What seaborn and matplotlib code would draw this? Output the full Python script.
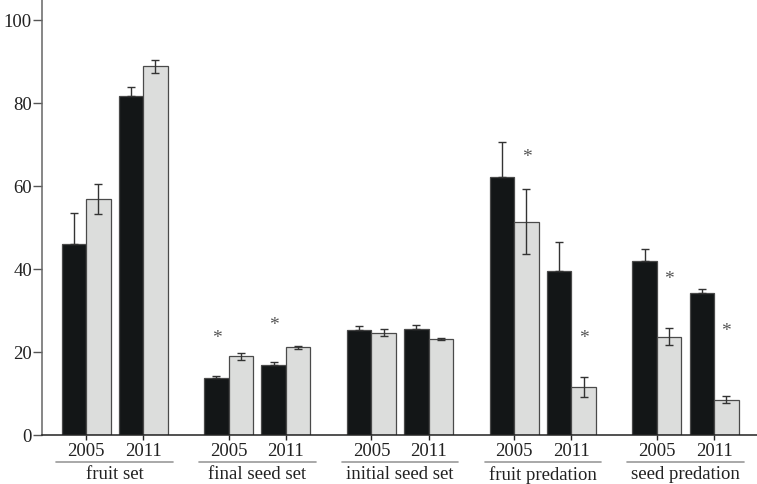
import numpy as np
import pandas as pd
import matplotlib.pyplot as plt
import seaborn as sns

# Data (2005, 2011 for each group)
groups = ["fruit set", "final seed set", "initial seed set", "fruit predation", "seed predation"]
years = ["2005", "2011"]
series = ["dark", "light"]

dark_vals = [46.0, 81.6, 13.7, 16.9, 25.3, 25.6, 62.1, 39.4, 41.9, 34.1]
dark_err = [7.5, 2.2, 0.6, 0.6, 0.9, 0.8, 8.4, 7.0, 2.9, 1.2]
light_vals = [56.9, 88.8, 19.0, 21.1, 24.6, 23.1, 51.4, 11.5, 23.7, 8.5]
light_err = [3.6, 1.6, 0.85, 0.35, 0.85, 0.3, 7.9, 2.4, 2.0, 0.8]

# significance stars: (bar index, series, height)
stars = [(2, "dark", 23.6), (3, "dark", 26.7), (6, "light", 67.0),
         (7, "light", 23.6), (8, "light", 37.8), (9, "light", 25.3)]

# -----------------------------
# Positions
# -----------------------------
pos = np.array([g * 2.5 + y for g in range(len(groups)) for y in range(len(years))])
bar_w = 0.858
off = bar_w / 4

df = pd.DataFrame({
    "pos": np.concatenate([pos, pos]),
    "value": dark_vals + light_vals,
    "series": ["dark"] * len(pos) + ["light"] * len(pos),
})

sns.set_style("ticks")
plt.rcParams["font.family"] = ["Liberation Serif", "DejaVu Serif"]

fig = plt.figure(figsize=(7.57, 4.85), dpi=100)
ax = fig.add_axes([42 / 757, 49 / 485, 715 / 757, 436 / 485])

sns.barplot(
    data=df, x="pos", y="value", hue="series", hue_order=series,
    palette=["#131617", "#dcdddc"], native_scale=True, dodge=True,
    width=bar_w, errorbar=None, saturation=1, edgecolor="#4a4a4a",
    linewidth=0.9, legend=False, ax=ax,
)

# error bars: dark only upward, light both ways
ax.errorbar(pos - off, dark_vals, yerr=[np.zeros(len(pos)), dark_err],
            fmt="none", ecolor="#333333", elinewidth=1, capsize=2.8, capthick=1)
ax.errorbar(pos + off, light_vals, yerr=light_err,
            fmt="none", ecolor="#333333", elinewidth=1, capsize=2.8, capthick=1)

for i, s, h in stars:
    x = pos[i] - off if s == "dark" else pos[i] + off
    ax.text(x, h, "*", ha="center", va="center", fontsize=14, color="#555555")

# axes
ax.set_xlim(-0.771, 11.753)
ax.set_ylim(0, 105.06)
ax.set_yticks(range(0, 101, 20))
ax.set_xticks(pos)
ax.set_xticklabels(years * len(groups))
ax.set_xlabel("")
ax.set_ylabel("")
ax.tick_params(axis="y", length=6.2, width=1, color="#555555", pad=1,
               labelsize=13.5, labelcolor="#222222")
ax.tick_params(axis="x", length=3.6, width=1, color="#222222", pad=1.5,
               labelsize=13.5, labelcolor="#222222")
sns.despine(ax=ax)
ax.spines["left"].set_color("#666666")
ax.spines["left"].set_linewidth(1.1)
ax.spines["bottom"].set_color("#222222")
ax.spines["bottom"].set_linewidth(1.1)

# group underline + label
for g, name in enumerate(groups):
    c = g * 2.5 + 0.5
    ax.plot([c - 1.02, c + 1.02], [-6.5, -6.5], color="#999999", lw=1.2,
            clip_on=False)
    ax.text(c, -7.2, name, ha="center", va="top", fontsize=13.5, color="#222222")

plt.savefig("out.png", dpi=100)
